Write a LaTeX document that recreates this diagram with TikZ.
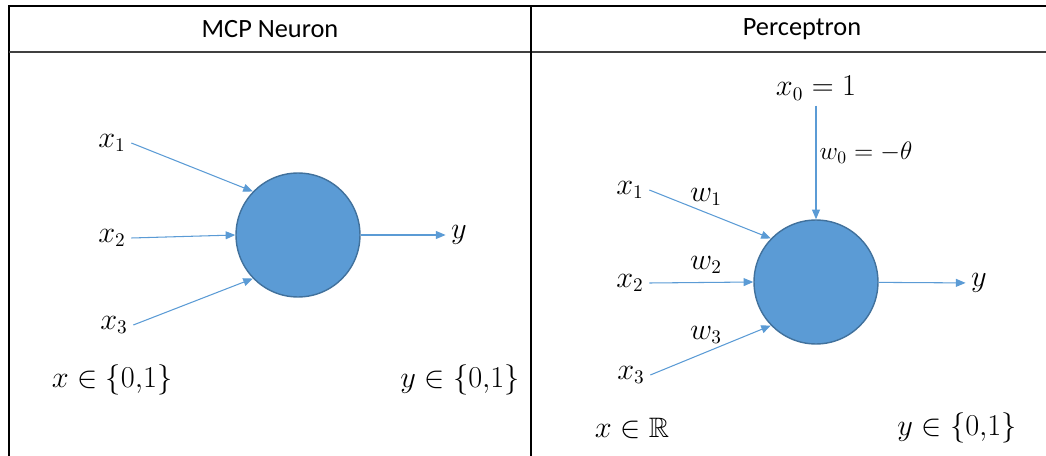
\documentclass[tikz,border=0pt]{standalone}
\usepackage[no-math]{fontspec}
\setmainfont{Carlito}
\usepackage{amsmath,amssymb}
\usetikzlibrary{arrows.meta}

\definecolor{cellfill}{HTML}{5B9BD5}
\definecolor{celledge}{HTML}{41719C}
\definecolor{wirecol}{HTML}{5B9BD5}

\begin{document}
\begin{tikzpicture}[
  x=0.02cm, y=-0.02cm,
  neuron/.style={circle, draw=celledge, fill=cellfill, line width=0.8pt,
                 minimum size=2.48cm, inner sep=0pt},
  lbl/.style={inner sep=3pt, font=\fontsize{16}{19}\selectfont},
  head/.style={inner sep=0pt, font=\fontsize{15}{18}\selectfont},
  arrow/.style={->, >={Triangle[length=5.5pt,width=4.5pt]}, draw=wirecol,
                line width=0.6pt}
]
\useasboundingbox (0,0) rectangle (1046,456);

% Table frame
\draw[line width=1.2pt] (1046,6) -- (9,6) -- (9,456);
\draw[line width=0.6pt, black!75] (9,52) -- (1046,52);
\draw[line width=0.9pt] (531,6) -- (531,456);

% Column heads
\node[head] (hmcp) at (270,29) {MCP Neuron};
\node[head] (hper) at (802,29) {Perceptron};

% MCP neuron (left column)
\node[neuron] (mcp) at (298,235) {};
\node[lbl] (mx1) at (112,143) {$x_1$};
\node[lbl] (mx2) at (112,238) {$x_2$};
\node[lbl] (mx3) at (114,325) {$x_3$};
\node[lbl] (my)  at (459,235) {$y$};
\node[lbl] (mxset) at (112,380) {$x \in \{0{,}1\}$};
\node[lbl] (myset) at (460,380) {$y \in \{0{,}1\}$};

\draw[arrow] (mx1.east) -- (mcp.136);
\draw[arrow] (mx2.east) -- (mcp.180);
\draw[arrow] (mx3.east) -- (mcp.224);
\draw[arrow] (mcp) -- (my);

% Perceptron (right column)
\node[neuron] (perc) at (816,282) {};
\node[lbl] (px0) at (816,88)  {$x_0 = 1$};
\node[lbl] (px1) at (630,190) {$x_1$};
\node[lbl] (px2) at (630,283) {$x_2$};
\node[lbl] (px3) at (631,375) {$x_3$};
\node[lbl] (py)  at (979,283) {$y$};
\node[lbl, font=\fontsize{14.5}{17}\selectfont] (pw0) at (866,153) {$w_0 = -\theta$};
\node[lbl] (pw1) at (706,197) {$w_1$};
\node[lbl] (pw2) at (706,265) {$w_2$};
\node[lbl] (pw3) at (706,335) {$w_3$};
\node[lbl] (pxset) at (632,428) {$x \in \mathbb{R}$};
\node[lbl] (pyset) at (957,428) {$y \in \{0{,}1\}$};

\draw[arrow] (px0) -- (perc);
\draw[arrow] (px1.east) -- (perc.136);
\draw[arrow] (px2.east) -- (perc.180);
\draw[arrow] (px3.east) -- (perc.224);
\draw[arrow] (perc) -- (py);
\end{tikzpicture}
\end{document}
